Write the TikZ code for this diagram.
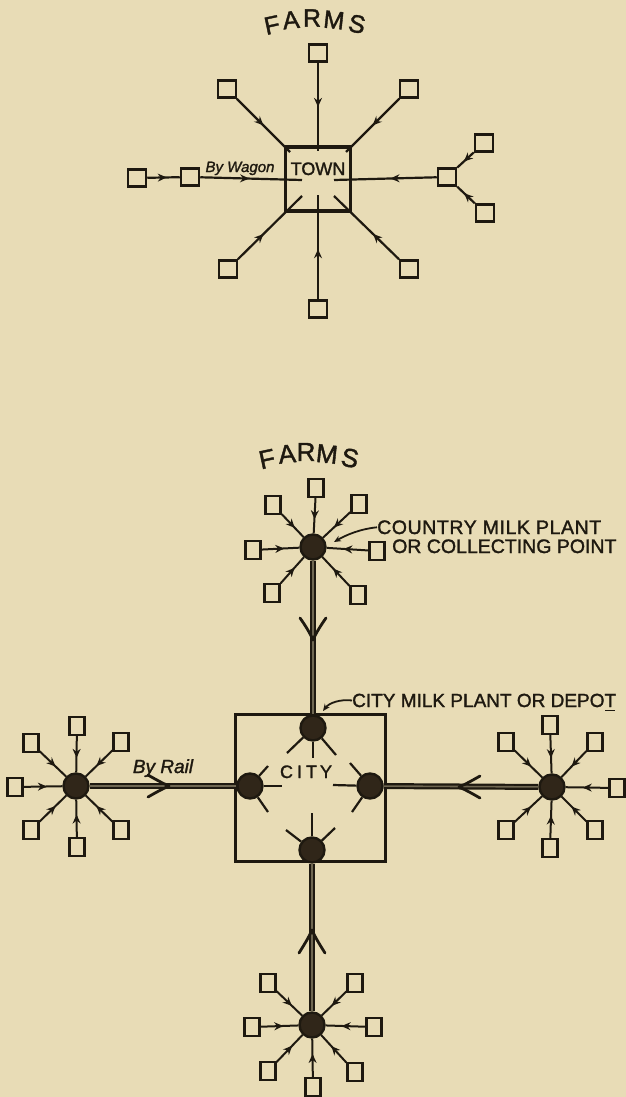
\documentclass[tikz,border=0pt]{standalone}
\usepackage{fontspec}
\setmainfont{Liberation Sans}[FakeBold=1.5]
\usetikzlibrary{arrows.meta,decorations.markings,calc}
\definecolor{bg}{RGB}{232,220,182}
\definecolor{ink}{RGB}{30,25,16}
\definecolor{hubfill}{RGB}{48,38,25}
\begin{document}
\begin{tikzpicture}[x=1pt,y=-1pt,
  farmA/.style={draw=ink, line width=2.5pt, minimum width=18pt, minimum height=17pt, inner sep=0pt},
  farmB/.style={draw=ink, line width=2.3pt, minimum width=15pt, minimum height=18pt, inner sep=0pt},
  hub/.style={circle, draw=ink, line width=2.4pt, fill=hubfill, minimum size=25pt, inner sep=0pt},
  town/.style={draw=ink, line width=3.2pt, minimum width=65pt, minimum height=64pt, inner sep=0pt},
  citybox/.style={draw=ink, line width=3pt, minimum width=150pt, minimum height=147pt, inner sep=0pt},
  spkA/.style={draw=ink, color=ink, line width=2.2pt, postaction=decorate,
    decoration={markings, mark=at position #1 with {\arrow{Stealth[length=9pt,width=8pt,inset=3pt]}}}},
  spkA/.default=0.5,
  spkB/.style={draw=ink, color=ink, line width=2pt, postaction=decorate,
    decoration={markings, mark=at position #1 with {\arrow{Stealth[length=9pt,width=8pt,inset=3pt]}}}},
  spkB/.default=0.6,
  stub/.style={draw=ink, line width=2.2pt},
  trunk/.style={draw=ink, line width=2.2pt, double=ink!60!bg, double distance=1.6pt},
  barb/.style={draw=ink, line width=2.8pt, line cap=round},
  lab/.style={draw=ink, color=ink, line width=1.8pt, -{Stealth[length=7pt,width=6pt]}},
  lbl/.style={text=ink, inner sep=0pt, font=\fontsize{19.5}{22}\selectfont},
  farmsA/.style={text=ink, inner sep=0pt, font=\fontsize{25}{28}\selectfont},
  farmsB/.style={text=ink, inner sep=0pt, font=\fontsize{26}{30}\selectfont},
  wag/.style={text=ink, inner sep=0pt, font=\fontsize{15}{18}\selectfont\itshape},
  rail/.style={text=ink, inner sep=0pt, font=\fontsize{19}{22}\selectfont\itshape},
  big/.style={text=ink, inner sep=0pt, font=\fontsize{18}{21}\selectfont}
]
\useasboundingbox (0,0) rectangle (626,1097);
\fill[bg] (0,0) rectangle (626,1097);

% ---------------- TOP: TOWN ----------------
\node[farmsA, rotate=12] (fa1) at (272,25) {F};
\node[farmsA, rotate=6] (fa2) at (291,20) {A};
\node[farmsA] (fa3) at (312,18) {R};
\node[farmsA, rotate=-6] (fa4) at (334,20) {M};
\node[farmsA, rotate=-12] (fa5) at (357,24) {S};

\node[town] (town) at (318,179) {};
\node[big, anchor=base] (townlbl) at (318,175) {TOWN};

\node[farmA] (t1) at (318,53) {};
\node[farmA] (t2) at (227,89) {};
\node[farmA] (t3) at (409,89) {};
\node[farmA] (t4) at (190,177) {};
\node[farmA] (t5) at (137,178) {};
\node[farmA] (t6) at (447,177) {};
\node[farmA] (t7) at (484,143) {};
\node[farmA] (t8) at (485,213) {};
\node[farmA] (t9) at (228,269) {};
\node[farmA] (t10) at (318,309) {};
\node[farmA] (t11) at (409,269) {};

\coordinate (ti1) at (318,151);
\coordinate (ti2) at (290,152);
\coordinate (ti3) at (346,152);
\coordinate (ti4) at (302,180);
\coordinate (ti6) at (334,180);
\coordinate (ti9) at (302,196);
\coordinate (ti10) at (318,195);
\coordinate (ti11) at (334,196);

\draw[spkA=0.5] (t1) -- (ti1);
\draw[spkA=0.5] (t2) -- (ti2);
\draw[spkA=0.5] (t3) -- (ti3);
\draw[spkA=0.48] (t4) -- (ti4);
\draw[spkA=0.6] (t5) -- (t4);
\draw[spkA=0.45] (t6) -- (ti6);
\draw[spkA=0.6] (t7) -- (t6);
\draw[spkA=0.6] (t8) -- (t6);
\draw[spkA=0.4] (t9) -- (ti9);
\draw[spkA=0.48] (t10) -- (ti10);
\draw[spkA=0.4] (t11) -- (ti11);

\node[wag, anchor=base] (wagon) at (240,172) {By Wagon};

% ---------------- BOTTOM: CITY ----------------
\node[farmsB, rotate=12] (fb1) at (267,459) {F};
\node[farmsB, rotate=6] (fb2) at (287,454) {A};
\node[farmsB] (fb3) at (306,452) {R};
\node[farmsB, rotate=-6] (fb4) at (327,454) {M};
\node[farmsB, rotate=-12] (fb5) at (350,458) {S};

\node[citybox] (city) at (310,787.5) {};
\node[big, anchor=base] (citylbl) at (306,778) {C\kern4pt I\kern4pt T\kern3pt Y};

% hubs
\node[hub] (hT) at (313,547) {};
\node[hub] (hL) at (76,786) {};
\node[hub] (hR) at (552,787) {};
\node[hub] (hB) at (312,1025) {};
\node[hub] (c1) at (313,728) {};
\node[hub] (c2) at (250,786) {};
\node[hub] (c3) at (370,786) {};
\node[hub] (c4) at (312,850) {};

% trunks
\draw[trunk] (hT) -- (c1);
\draw[trunk] (hL) -- (c2);
\draw[trunk] (hR) -- (c3);
\draw[trunk] (c4) -- (hB);

% trunk arrowheads
\draw[barb] (313,640) .. controls (310,633) and (305,625) .. (300,618);
\draw[barb] (313,640) .. controls (316,633) and (321,625) .. (326,618);
\draw[barb] (169,786) .. controls (162,783) and (155,779) .. (148,775);
\draw[barb] (169,786) .. controls (162,789) and (155,793) .. (148,797);
\draw[barb] (459,787) .. controls (466,784) and (473,780) .. (480,776);
\draw[barb] (459,787) .. controls (466,790) and (473,794) .. (480,798);
\draw[barb] (312,930) .. controls (309,937) and (304,945) .. (299,953);
\draw[barb] (312,930) .. controls (315,937) and (320,945) .. (325,953);

% city stubs
\coordinate (s11) at (287,753); \coordinate (s12) at (313,758); \coordinate (s13) at (336,755);
\coordinate (s21) at (268,766); \coordinate (s22) at (282,786); \coordinate (s23) at (268,812);
\coordinate (s31) at (350,763); \coordinate (s32) at (333,785); \coordinate (s33) at (352,812);
\coordinate (s41) at (286,830); \coordinate (s42) at (312,813); \coordinate (s43) at (335,828);
\draw[stub] (c1) -- (s11); \draw[stub] (c1) -- (s12); \draw[stub] (c1) -- (s13);
\draw[stub] (c2) -- (s21); \draw[stub] (c2) -- (s22); \draw[stub] (c2) -- (s23);
\draw[stub] (c3) -- (s31); \draw[stub] (c3) -- (s32); \draw[stub] (c3) -- (s33);
\draw[stub] (c4) -- (s41); \draw[stub] (c4) -- (s42); \draw[stub] (c4) -- (s43);

% cluster farms
\node[farmB] (a1) at (316,488) {};
\node[farmB] (a2) at (273,505) {};
\node[farmB] (a3) at (359,504) {};
\node[farmB] (a4) at (253,550) {};
\node[farmB] (a5) at (377,551) {};
\node[farmB] (a6) at (272,593) {};
\node[farmB] (a7) at (358,595) {};

\node[farmB] (b1) at (77,726) {};
\node[farmB] (b2) at (31,743) {};
\node[farmB] (b3) at (121,742) {};
\node[farmB] (b4) at (15,787) {};
\node[farmB] (b5) at (31,830) {};
\node[farmB] (b6) at (77,847) {};
\node[farmB] (b7) at (121,830) {};

\node[farmB] (r1) at (550,725) {};
\node[farmB] (r2) at (506,742) {};
\node[farmB] (r3) at (595,742) {};
\node[farmB] (r4) at (617,788) {};
\node[farmB] (r5) at (506,830) {};
\node[farmB] (r6) at (550,848) {};
\node[farmB] (r7) at (595,830) {};

\node[farmB] (d1) at (268,983) {};
\node[farmB] (d2) at (355,983) {};
\node[farmB] (d3) at (252,1027) {};
\node[farmB] (d4) at (374,1027) {};
\node[farmB] (d5) at (268,1071) {};
\node[farmB] (d6) at (313,1087) {};
\node[farmB] (d7) at (355,1072) {};

\foreach \n in {a1,a2,a3,a4,a5,a6,a7} \draw[spkB] (\n) -- (hT);
\foreach \n in {b1,b2,b3,b4,b5,b6,b7} \draw[spkB] (\n) -- (hL);
\foreach \n in {r1,r2,r3,r4,r5,r6,r7} \draw[spkB] (\n) -- (hR);
\foreach \n in {d1,d2,d3,d4,d5,d6,d7} \draw[spkB] (\n) -- (hB);

% labels
\node[rail, anchor=base] (byrail) at (163,773) {By Rail};

\node[lbl, anchor=base west, font=\fontsize{19.5}{22}\selectfont\addfontfeature{LetterSpace=3}] (cmp1) at (377,534) {COUNTRY MILK PLANT};
\node[lbl, anchor=base west] (cmp2) at (392,553) {OR COLLECTING POINT};
\coordinate (cpt) at (334,542);
\draw[lab] (cmp1.west) .. controls (360,529) and (346,535) .. (cpt);

\node[lbl, anchor=base west, font=\fontsize{19}{22}\selectfont] (cmpd) at (352,707) {CITY MILK PLANT OR DEPOT};
\coordinate (cdp) at (323,711);
\draw[lab] (cmpd.west) .. controls (340,699) and (329,703) .. (cdp);
\draw[ink, line width=1pt] ($(cmpd.base east)+(-11,3.5)$) -- ($(cmpd.base east)+(-1,3.5)$);
\end{tikzpicture}
\end{document}
